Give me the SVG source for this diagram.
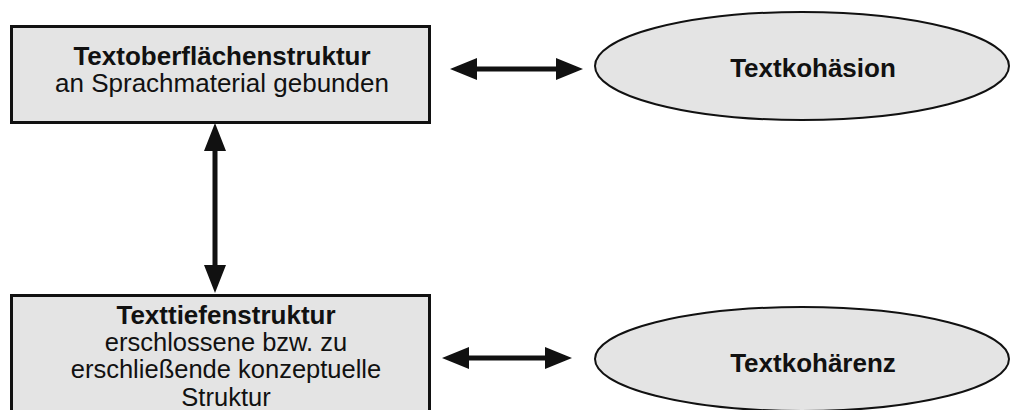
<svg xmlns="http://www.w3.org/2000/svg" width="1011" height="410" viewBox="0 0 1011 410">
<style>
.box{fill:#e4e4e4;stroke:#111;stroke-width:3}
.ell{fill:#e4e4e4;stroke:#111;stroke-width:2}
.arrow{fill:#111;stroke:none}
text{font-family:"Liberation Sans",Arial,sans-serif;font-size:26px;fill:#111;text-anchor:middle}
.b{font-weight:bold}
.s{font-size:25.5px}
</style>
<rect width="1011" height="410" fill="#fff"/>
<g id="connectors">
<path class="arrow" d="M450,69 L477,58 L477,66.5 L556,66.5 L556,58 L583,69 L556,80 L556,71.5 L477,71.5 L477,80 Z"/>
<path class="arrow" d="M442,358 L469,347 L469,355.5 L545,355.5 L545,347 L572,358 L545,369 L545,360.5 L469,360.5 L469,369 Z"/>
<path class="arrow" d="M215,123 L226,151 L217.5,151 L217.5,265 L226,265 L215,293 L204,265 L212.5,265 L212.5,151 L204,151 Z"/>
</g>
<g id="oberflaeche">
<rect class="box" x="11.5" y="26.5" width="418" height="96"/>
<text class="b" x="222" y="65">Textoberflächenstruktur</text>
<text x="222" y="92">an Sprachmaterial gebunden</text>
</g>
<g id="kohaesion">
<ellipse class="ell" cx="802" cy="66" rx="207" ry="54"/>
<text class="b" x="813" y="77">Textkohäsion</text>
</g>
<g id="tiefe">
<rect class="box" x="11.5" y="295.5" width="418" height="130"/>
<text class="b" x="226" y="324">Texttiefenstruktur</text>
<text class="s" x="226" y="351">erschlossene bzw. zu</text>
<text class="s" x="226" y="378">erschließende konzeptuelle</text>
<text class="s" x="226" y="406">Struktur</text>
</g>
<g id="kohaerenz">
<ellipse class="ell" cx="802" cy="359" rx="207" ry="52"/>
<text class="b" x="813" y="372">Textkohärenz</text>
</g>
</svg>
